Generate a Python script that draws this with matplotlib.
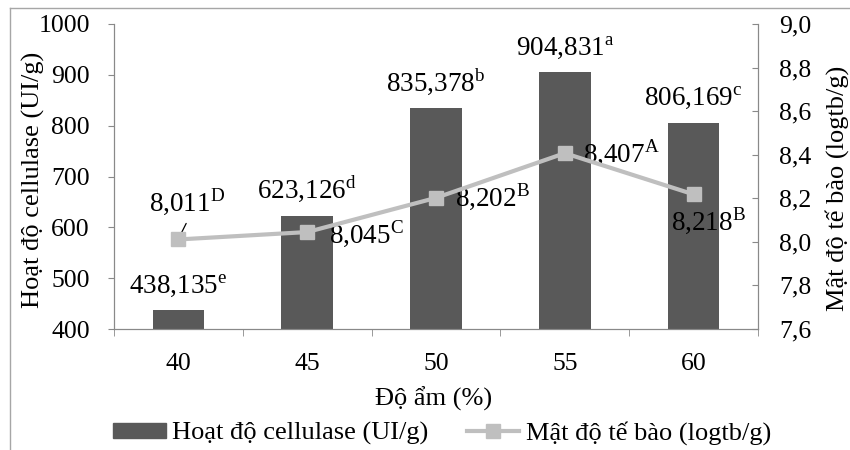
import numpy as np
import matplotlib.pyplot as plt
from matplotlib.lines import Line2D

plt.rcParams['font.family'] = 'serif'
plt.rcParams['font.serif'] = ['Liberation Serif', 'DejaVu Serif']
plt.rcParams['mathtext.fontset'] = 'custom'
plt.rcParams['mathtext.rm'] = 'Liberation Serif'
plt.rcParams['font.size'] = 19

# data
do_am = ['40', '45', '50', '55', '60']
cellulase = [438.135, 623.126, 835.378, 904.831, 806.169]
cellulase_sig = ['e', 'd', 'b', 'a', 'c']
mat_do = [8.011, 8.045, 8.202, 8.407, 8.218]
mat_do_sig = ['D', 'C', 'B', 'A', 'B']

bar_col = '#595959'
line_col = '#bfbfbf'
axis_col = '#898989'

W, H = 850, 450
fig = plt.figure(figsize=(8.5, 4.5), dpi=100)
ax = fig.add_axes([114/W, 1 - 329/H, (758-114)/W, (329-24)/H])
ax2 = ax.twinx()

x = np.arange(len(do_am))
ax.bar(x, cellulase, width=0.4, color=bar_col, zorder=2)
ax.set_ylim(400, 1000)
ax.set_xlim(-0.5, len(do_am) - 0.5)
ax.set_yticks(np.arange(400, 1001, 100))
ax.set_xticks(x)
ax.set_xticklabels(do_am)
ax.set_xticks(np.arange(-0.5, len(do_am), 1), minor=True)
ax.tick_params(axis='x', which='major', length=0, pad=17, labelsize=18.5)
ax.tick_params(axis='x', which='minor', length=5, color=axis_col, direction='out')
ax.tick_params(axis='y', length=4.5, color=axis_col, pad=13, labelsize=18.5)

ax2.plot(x, mat_do, color=line_col, lw=3, marker='s', ms=10, zorder=4)
ax2.set_ylim(7.6, 9.0)
rticks = np.arange(7.6, 9.01, 0.2)
ax2.set_yticks(rticks)
ax2.set_yticklabels([f'{v:.1f}'.replace('.', ',') for v in rticks])
ax2.tick_params(axis='y', length=4.5, color=axis_col, direction='in', pad=15, labelsize=18.5)

for a in (ax, ax2):
    a.spines['top'].set_visible(False)
    for s in ('left', 'right', 'bottom'):
        a.spines[s].set_color(axis_col)

# axis titles
fig.text(33/W, 1 - 180/H, 'Hoạt độ cellulase (UI/g)', rotation=90, ha='center', va='center')
fig.text(837/W, 1 - 188/H, 'Mật độ tế bào (logtb/g)', rotation=90, ha='center', va='center')
fig.text(434/W, 1 - 399/H, 'Độ ẩm (%)', ha='center', va='center')

# bar labels
for xi, v, s in zip(x, cellulase, cellulase_sig):
    txt = f'{v:.3f}'.replace('.', ',') + r'$^{\mathrm{' + s + '}}$'
    ax.annotate(txt, (xi, v), xytext=(0, 8), textcoords='offset points',
                ha='center', va='bottom', fontsize=19.5)

# line labels
offsets = [(6, 27), (42.5, -2), (41, 0), (41, 0), (11, -19.5)]
for xi, v, s, off in zip(x, mat_do, mat_do_sig, offsets):
    txt = f'{v:.3f}'.replace('.', ',') + r'$^{\mathrm{' + s + '}}$'
    ax2.annotate(txt, (xi, v), xytext=off, textcoords='offset points',
                 ha='center', va='center', fontsize=19.5)
# leader line for first point
ax2.annotate('', (x[0] + 0.015, mat_do[0] + 0.02), xytext=(x[0] + 0.07, mat_do[0] + 0.085),
             arrowprops=dict(arrowstyle='-', color='black', lw=0.9), zorder=2)

handles = [plt.Rectangle((0, 0), 1, 1, color=bar_col),
           Line2D([], [], color=line_col, lw=3, marker='s', ms=10.5)]
fig.legend(handles, ['Hoạt độ cellulase (UI/g)', 'Mật độ tế bào (logtb/g)'],
           loc='center', bbox_to_anchor=(442/W, 1 - 433/H), ncol=2, frameon=False,
           handlelength=2.0, handleheight=0.5, handletextpad=0.25, columnspacing=1.45,
           borderaxespad=0, borderpad=0)

# outer frame (cut at right and bottom)
fig.add_artist(Line2D([10/W, 1], [1 - 8/H, 1 - 8/H], color='#a6a6a6', lw=1))
fig.add_artist(Line2D([10/W, 10/W], [0, 1 - 8/H], color='#a6a6a6', lw=1))

fig.savefig('out.png', dpi=100)
